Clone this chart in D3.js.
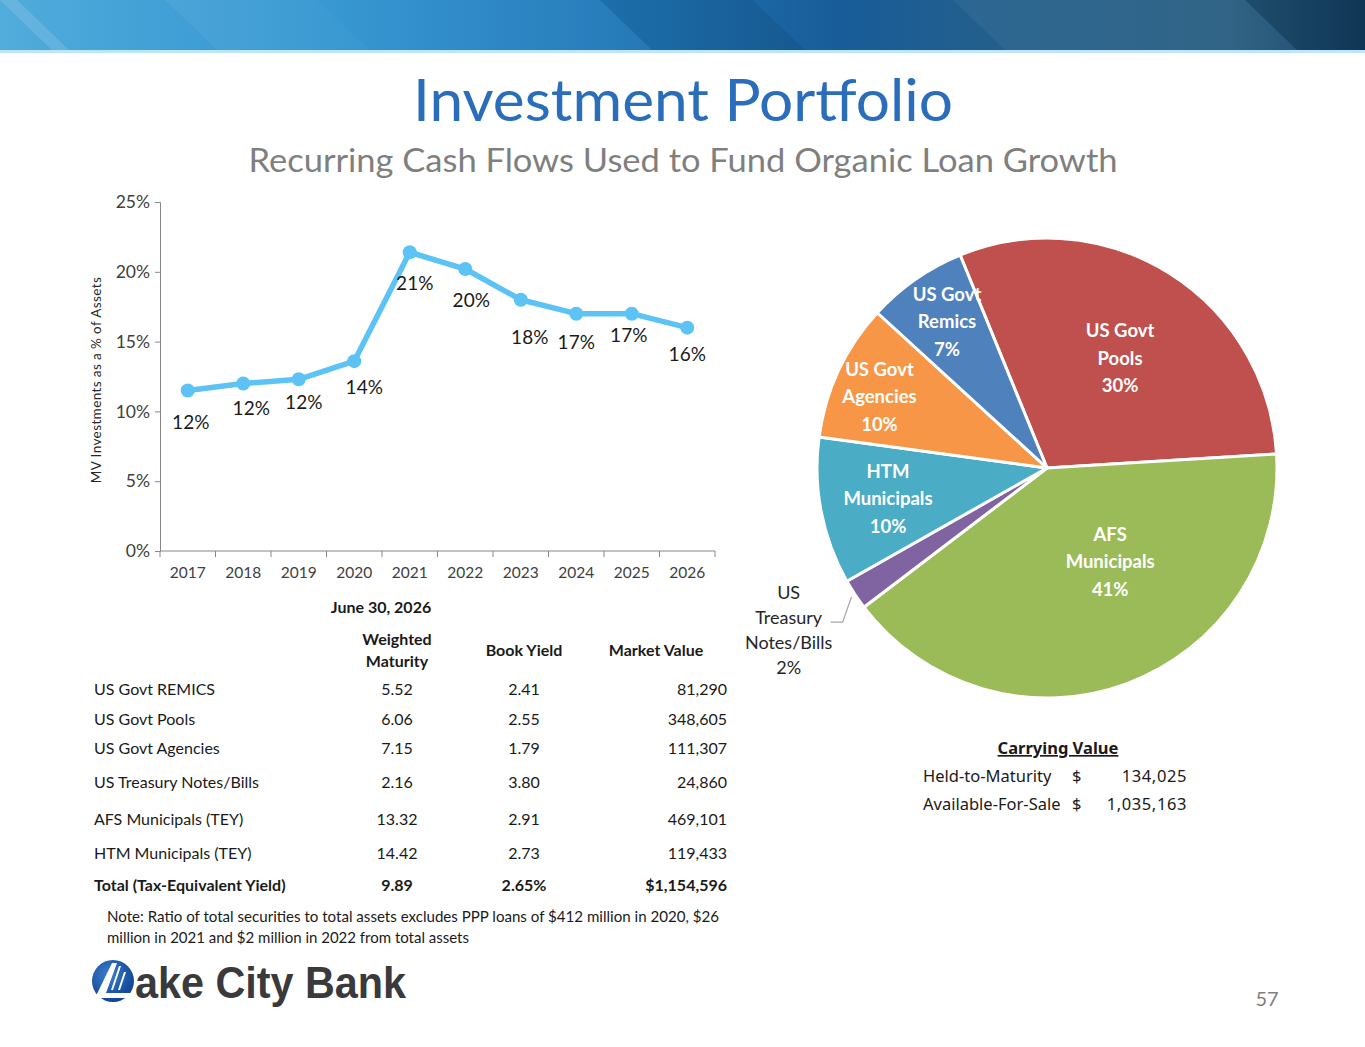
<!DOCTYPE html>
<html>
<head>
<meta charset="utf-8">
<script src="https://cdn.jsdelivr.net/npm/d3@7"></script>
<style>
  body { margin: 0; background: #fff; }
  svg { display: block; }
  text { font-family: Lato, "Open Sans", sans-serif; }
</style>
</head>
<body>
<svg id="slide" width="1365" height="1047"></svg>
<script>
// Line chart data (MV investments as % of assets)
const years = ["2017", "2018", "2019", "2020", "2021", "2022", "2023", "2024", "2025", "2026"];
const pctOfAssets = [11.5, 12.0, 12.3, 13.6, 21.4, 20.2, 18.0, 17.0, 17.0, 16.0];

// Portfolio table data (June 30, 2026)
const securities = ["US Govt REMICS", "US Govt Pools", "US Govt Agencies", "US Treasury Notes/Bills", "AFS Municipals (TEY)", "HTM Municipals (TEY)"];
const weightedMaturity = ["5.52", "6.06", "7.15", "2.16", "13.32", "14.42"];
const bookYield = ["2.41", "2.55", "1.79", "3.80", "2.91", "2.73"];
const marketValue = [81290, 348605, 111307, 24860, 469101, 119433];
const totalRow = ["Total (Tax-Equivalent Yield)", "9.89", "2.65%", "$1,154,596"];

// Pie slices (clockwise order, from the market values above)
const pieNames = [["US Govt", "Pools"], ["AFS", "Municipals"], ["US", "Treasury", "Notes/Bills"], ["HTM", "Municipals"], ["US Govt", "Agencies"], ["US Govt", "Remics"]];
const pieValues = [348605, 469101, 24860, 119433, 111307, 81290];
const pieColors = ["#C0504D", "#9BBB59", "#8064A2", "#4BACC6", "#F79646", "#4F81BD"];

// Carrying value box
const carryLabels = ["Held-to-Maturity", "Available-For-Sale"];
const carryValues = ["134,025", "1,035,163"];

const svg = d3.select("#slide");
const defs = svg.append("defs");

// ---- Header banner ----
const grad = defs.append("linearGradient").attr("id", "banner");
[["0", "#52ACDC"], ["0.25", "#2F93D0"], ["0.45", "#1F77B8"], ["0.62", "#185C98"], ["0.72", "#225F8C"], ["0.9", "#265C80"], ["1", "#133E62"]]
  .forEach(s => grad.append("stop").attr("offset", s[0]).attr("stop-color", s[1]));
svg.append("rect").attr("width", 1365).attr("height", 50).attr("fill", "url(#banner)");

// diagonal stripes in the banner
const stripes = [[0, 17, 0.12, "#fff"], [165, 318, 0.06, "#fff"], [318, 600, 0.04, "#fff"], [600, 753, 0.08, "#000"], [953, 1245, 0.05, "#fff"], [1245, 1400, 0.12, "#000"]];
stripes.forEach(s => {
  svg.append("path")
    .attr("d", `M${s[0]},0 L${s[1]},0 L${s[1] + 52},50 L${s[0] + 52},50 Z`)
    .attr("fill", s[3]).attr("opacity", s[2]);
});
svg.append("rect").attr("y", 50).attr("width", 1365).attr("height", 3).attr("fill", "#BFE6F8");

// ---- Titles ----
svg.append("text").attr("x", 683).attr("y", 121).attr("text-anchor", "middle")
  .attr("font-size", 58).attr("fill", "#2A6EBB")
  .attr("textLength", 540).attr("lengthAdjust", "spacingAndGlyphs")
  .text("Investment Portfolio");
svg.append("text").attr("x", 683).attr("y", 172).attr("text-anchor", "middle")
  .attr("font-size", 32).attr("fill", "#7F7F7F")
  .attr("textLength", 869).attr("lengthAdjust", "spacingAndGlyphs")
  .text("Recurring Cash Flows Used to Fund Organic Loan Growth");

// ---- Line chart ----
const x = d3.scaleBand().domain(years).range([160, 715]);
const y = d3.scaleLinear().domain([0, 25]).range([551, 202]);

const yAxis = svg.append("g").attr("transform", "translate(160,0)")
  .call(d3.axisLeft(y).tickValues([0, 5, 10, 15, 20, 25]).tickSize(5).tickPadding(5).tickFormat(d => d + "%"));
yAxis.select(".domain").attr("stroke", "#868686");
yAxis.selectAll(".tick line").attr("stroke", "#868686");
yAxis.selectAll(".tick text").attr("font-family", "Lato").attr("font-size", 17.5).attr("fill", "#404040");

const xAxis = svg.append("g").attr("transform", "translate(0,551)")
  .call(d3.axisBottom(x).tickSize(0).tickPadding(16));
xAxis.select(".domain").attr("stroke", "#868686").attr("d", "M160,0H715");
xAxis.selectAll(".tick text").attr("font-family", "Lato").attr("font-size", 15.5).attr("fill", "#404040");
// tick marks at category boundaries
xAxis.selectAll("line.bound").data(d3.range(years.length + 1)).join("line")
  .attr("class", "bound")
  .attr("x1", i => 160 + i * x.step()).attr("x2", i => 160 + i * x.step())
  .attr("y1", 0).attr("y2", 6).attr("stroke", "#868686");

svg.append("text").attr("transform", "translate(101,380) rotate(-90)")
  .attr("text-anchor", "middle").attr("font-size", 13.5).attr("fill", "#262626")
  .attr("letter-spacing", 0.4)
  .text("MV Investments as a % of Assets");

const cx = d => x(d) + x.bandwidth() / 2;
const line = d3.line().x((d, i) => cx(years[i])).y(d => y(d));
svg.append("path").datum(pctOfAssets).attr("d", line)
  .attr("fill", "none").attr("stroke", "#5DC2F4").attr("stroke-width", 5.5).attr("stroke-linejoin", "round");
svg.selectAll("circle.pt").data(pctOfAssets).join("circle").attr("class", "pt")
  .attr("cx", (d, i) => cx(years[i])).attr("cy", d => y(d)).attr("r", 7).attr("fill", "#5DC2F4");

// label placement relative to each point (layout only)
const labelShift = [[3, 32], [8, 25], [5, 23], [10, 26], [5, 31], [6, 31], [9, 38], [0, 29], [-3, 22], [0, 27]];
svg.selectAll("text.dl").data(pctOfAssets).join("text").attr("class", "dl")
  .attr("x", (d, i) => cx(years[i]) + labelShift[i][0])
  .attr("y", (d, i) => y(d) + labelShift[i][1])
  .attr("dy", "0.35em").attr("text-anchor", "middle")
  .attr("font-size", 19).attr("fill", "#1a1a1a")
  .text(d => Math.round(d) + "%");

// ---- Table ----
const tbl = svg.append("g").attr("font-size", 16).attr("fill", "#1a1a1a");
const head = (tx, hx, hy) => tbl.append("text").attr("x", hx).attr("y", hy).attr("text-anchor", "middle")
  .attr("font-weight", "bold").attr("font-size", 16).text(tx);
head("June 30, 2026", 381, 613);
head("Weighted", 397, 645);
head("Maturity", 397, 667);
head("Book Yield", 524, 656);
head("Market Value", 656, 656);

const rowY = [689, 719, 748, 782, 819, 853];
const fmt = d3.format(",");
securities.forEach((name, i) => {
  const r = tbl.append("g").attr("transform", `translate(0,${rowY[i]})`);
  r.append("text").attr("x", 94).attr("dy", "0.35em").text(name);
  r.append("text").attr("x", 397).attr("dy", "0.35em").attr("text-anchor", "middle").text(weightedMaturity[i]);
  r.append("text").attr("x", 524).attr("dy", "0.35em").attr("text-anchor", "middle").text(bookYield[i]);
  r.append("text").attr("x", 727).attr("dy", "0.35em").attr("text-anchor", "end").text(fmt(marketValue[i]));
});
const tot = tbl.append("g").attr("transform", "translate(0,885)").attr("font-weight", "bold");
tot.append("text").attr("x", 94).attr("dy", "0.35em").text(totalRow[0]);
tot.append("text").attr("x", 397).attr("dy", "0.35em").attr("text-anchor", "middle").text(totalRow[1]);
tot.append("text").attr("x", 524).attr("dy", "0.35em").attr("text-anchor", "middle").text(totalRow[2]);
tot.append("text").attr("x", 727).attr("dy", "0.35em").attr("text-anchor", "end").text(totalRow[3]);

svg.append("text").attr("x", 107).attr("y", 922).attr("font-size", 15).attr("fill", "#1a1a1a")
  .attr("textLength", 612).attr("lengthAdjust", "spacingAndGlyphs")
  .text("Note:  Ratio of total securities to total assets excludes PPP loans of $412 million in 2020, $26");
svg.append("text").attr("x", 107).attr("y", 943).attr("font-size", 15).attr("fill", "#1a1a1a")
  .attr("textLength", 362).attr("lengthAdjust", "spacingAndGlyphs")
  .text("million in 2021 and $2 million in 2022 from total assets");

// ---- Pie ----
const pcx = 1047, pcy = 468, R = 230;
const total = d3.sum(pieValues);
const pie = d3.pie().sort(null).value(d => d)
  .startAngle(-22.2 * Math.PI / 180).endAngle((360 - 22.2) * Math.PI / 180);
const arcs = pie(pieValues);
const arc = d3.arc().innerRadius(0).outerRadius(R);
const pg = svg.append("g").attr("transform", `translate(${pcx},${pcy})`);
pg.selectAll("path").data(arcs).join("path")
  .attr("d", arc).attr("fill", (d, i) => pieColors[i])
  .attr("stroke", "#fff").attr("stroke-width", 3).attr("stroke-linejoin", "round");

// label spots as [angle in degrees clockwise from 12 o'clock, radius] (layout only)
const pieLabelAt = [[33.6, 132], [146, 113], [237.9, 305], [259, 162], [293, 182], [325.6, 177]];
arcs.forEach((a, i) => {
  const ang = pieLabelAt[i][0] * Math.PI / 180, rr = pieLabelAt[i][1];
  const lx = rr * Math.sin(ang), ly = -rr * Math.cos(ang);
  const lines = pieNames[i].concat([Math.round(a.value / total * 100) + "%"]);
  const outside = i === 2;
  const gap = outside ? 25 : 27.5;
  const t = pg.append("text").attr("text-anchor", "middle")
    .attr("font-size", outside ? 18 : 18.5)
    .attr("font-weight", outside ? "normal" : "bold")
    .attr("fill", outside ? "#262626" : "#fff");
  lines.forEach((s, k) => {
    t.append("tspan").attr("x", lx)
      .attr("y", ly + (k - (lines.length - 1) / 2) * gap).attr("dy", "0.35em").text(s);
  });
  if (outside) {
    const m = (a.startAngle + a.endAngle) / 2;
    const sx = (R + 4) * Math.sin(m), sy = -(R + 4) * Math.cos(m);
    pg.append("polyline")
      .attr("points", `${sx},${sy} ${lx + 54},${ly - 8} ${lx + 42},${ly - 8}`)
      .attr("fill", "none").attr("stroke", "#A6A6A6").attr("stroke-width", 1.2);
  }
});

// ---- Carrying value ----
const cvFont = "'Noto Sans', sans-serif";
const cv = svg.append("g").attr("fill", "#1a1a1a");
cv.append("text").attr("x", 1058).attr("y", 754).attr("text-anchor", "middle")
  .attr("font-weight", "bold").attr("font-size", 16.5).attr("text-decoration", "underline")
  .style("font-family", cvFont).text("Carrying Value");
carryLabels.forEach((lab, i) => {
  const yy = 782 + i * 28;
  cv.append("text").attr("x", 923).attr("y", yy).attr("font-size", 16.5).style("font-family", cvFont).text(lab);
  cv.append("text").attr("x", 1072).attr("y", yy).attr("font-size", 16.5).style("font-family", cvFont).text("$");
  cv.append("text").attr("x", 1187).attr("y", yy).attr("font-size", 16.5).attr("text-anchor", "end")
    .attr("letter-spacing", 0.6).style("font-family", cvFont).text(carryValues[i]);
});

// ---- Logo ----
const lg = defs.append("radialGradient").attr("id", "orb").attr("cx", "40%").attr("cy", "35%").attr("r", "70%");
lg.append("stop").attr("offset", "0").attr("stop-color", "#3D7FD0");
lg.append("stop").attr("offset", "1").attr("stop-color", "#0D3F8F");
svg.append("circle").attr("cx", 113).attr("cy", 981).attr("r", 21).attr("fill", "url(#orb)");
svg.append("path").attr("d", "M112,963 L117,963 L106,993 L131,993 L130,998 L95,998 Z").attr("fill", "#fff");
svg.append("path").attr("d", "M119,966 L121,966 L113,990 L111,990 Z M124,972 L126,972 L120,990 L118,990 Z").attr("fill", "#fff");
svg.append("text").attr("x", 135).attr("y", 998)
  .style("font-family", "'Liberation Sans', Arial, sans-serif")
  .attr("font-weight", "bold").attr("font-size", 44).attr("fill", "#3A3A3C")
  .attr("textLength", 271).attr("lengthAdjust", "spacingAndGlyphs")
  .text("ake City Bank");

// ---- Page number ----
svg.append("text").attr("x", 1267).attr("y", 1006).attr("text-anchor", "middle")
  .attr("font-size", 20).attr("fill", "#7F7F7F").text("57");
</script>
</body>
</html>
